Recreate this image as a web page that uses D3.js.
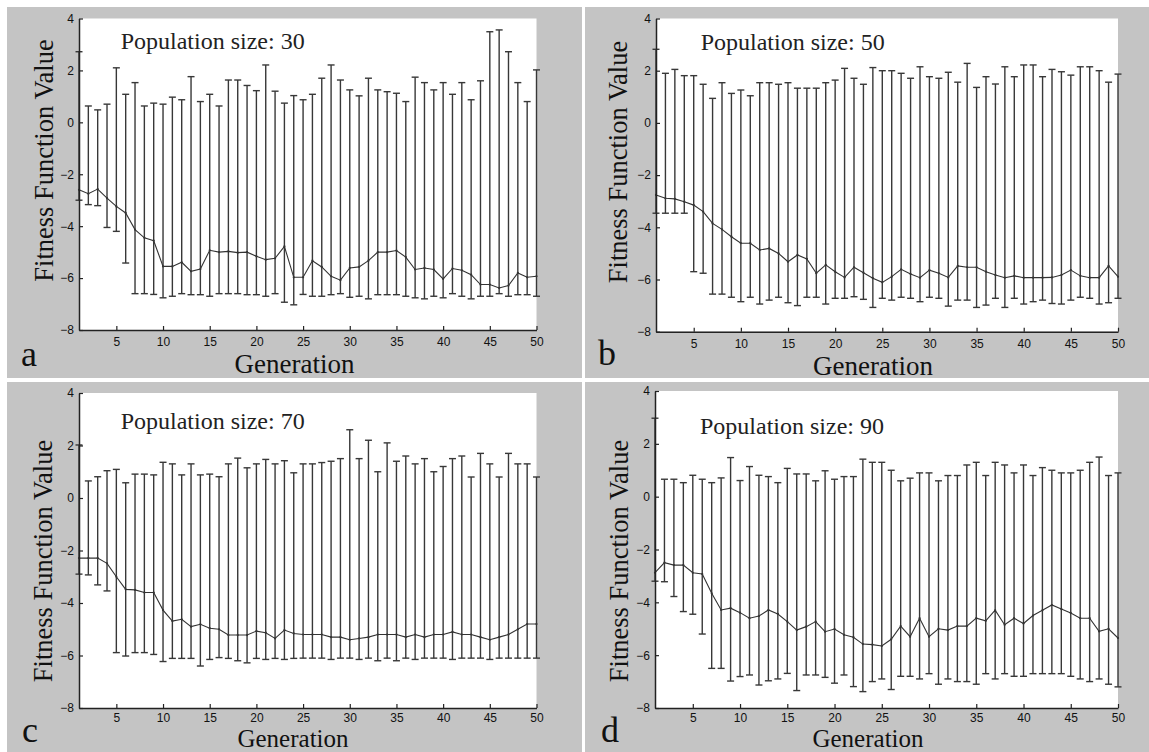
<!DOCTYPE html>
<html>
<head>
<meta charset="utf-8">
<script src="https://cdn.jsdelivr.net/npm/d3@7"></script>
<style>
  body { margin: 0; background: #fff; }
  svg { display: block; }
</style>
</head>
<body>
<svg id="chart" width="1149" height="752"></svg>
<script>
const generations = d3.range(1, 51)
const yTicks = [-8, -6, -4, -2, 0, 2, 4]
const xTicks = [5, 10, 15, 20, 25, 30, 35, 40, 45, 50]

// population size 30
const upperA = [2.72, 0.63, 0.48, 0.70, 2.10, 1.08, 1.53, 0.63, 0.74, 0.70, 0.97, 0.87, 1.76, 0.80, 1.08, 0.63, 1.63, 1.63, 1.42, 1.22, 2.21, 1.20, 0.74, 1.03, 0.87, 1.08, 1.70, 2.21, 1.63, 1.25, 1.02, 1.70, 1.25, 1.18, 1.12, 0.80, 1.74, 1.53, 1.25, 1.53, 1.08, 1.53, 0.87, 1.60, 3.49, 3.56, 2.72, 1.53, 0.80, 2.02]
const meanA = [-2.60, -2.75, -2.57, -2.92, -3.24, -3.49, -4.13, -4.45, -4.56, -5.55, -5.55, -5.39, -5.74, -5.65, -4.93, -5.00, -4.97, -5.02, -5.00, -5.16, -5.29, -5.24, -4.78, -5.97, -5.97, -5.33, -5.57, -5.93, -6.08, -5.61, -5.57, -5.33, -5.00, -5.00, -4.94, -5.19, -5.67, -5.61, -5.67, -6.03, -5.63, -5.70, -5.87, -6.25, -6.25, -6.38, -6.29, -5.80, -5.97, -5.93]
const lowerA = [-3.00, -3.17, -3.21, -4.05, -4.20, -5.42, -6.60, -6.60, -6.63, -6.76, -6.70, -6.60, -6.64, -6.64, -6.70, -6.60, -6.60, -6.60, -6.64, -6.64, -6.70, -6.60, -6.93, -7.03, -6.63, -6.70, -6.70, -6.64, -6.60, -6.74, -6.70, -6.80, -6.64, -6.64, -6.64, -6.70, -6.76, -6.80, -6.70, -6.76, -6.60, -6.70, -6.80, -6.70, -6.70, -6.60, -6.70, -6.64, -6.64, -6.70]

// population size 50
const upperB = [2.82, 1.90, 2.05, 1.81, 1.81, 1.48, 0.94, 1.54, 1.13, 1.26, 1.04, 1.54, 1.54, 1.48, 1.54, 1.33, 1.33, 1.33, 1.54, 1.64, 2.09, 1.71, 1.48, 2.12, 2.00, 2.00, 1.90, 1.71, 2.15, 1.77, 1.71, 1.94, 1.56, 2.28, 1.36, 1.77, 1.49, 2.15, 1.77, 2.22, 2.22, 1.77, 2.05, 1.96, 1.83, 2.15, 2.15, 2.00, 1.56, 1.87]
const meanB = [-2.76, -2.89, -2.91, -3.02, -3.15, -3.40, -3.85, -4.08, -4.36, -4.61, -4.61, -4.87, -4.81, -5.00, -5.32, -5.06, -5.21, -5.76, -5.44, -5.70, -5.92, -5.53, -5.74, -5.95, -6.11, -5.89, -5.61, -5.79, -5.93, -5.64, -5.76, -5.92, -5.48, -5.53, -5.53, -5.70, -5.83, -5.93, -5.86, -5.93, -5.93, -5.93, -5.92, -5.83, -5.64, -5.86, -5.93, -5.93, -5.48, -5.89]
const lowerB = [-3.46, -3.46, -3.46, -3.46, -5.70, -5.76, -6.56, -6.56, -6.68, -6.85, -6.68, -6.94, -6.79, -6.68, -6.89, -7.00, -6.68, -6.68, -6.94, -6.72, -6.72, -6.66, -6.76, -7.07, -6.72, -6.79, -6.68, -6.72, -6.85, -6.68, -6.72, -7.02, -6.79, -6.79, -7.07, -6.98, -6.72, -7.07, -6.72, -6.94, -6.85, -6.79, -6.92, -6.94, -6.79, -6.68, -6.72, -6.94, -6.89, -6.72]

// population size 70
const upperC = [2.02, 0.65, 0.81, 1.04, 1.09, 0.58, 0.91, 0.91, 0.88, 1.36, 1.30, 0.88, 1.30, 0.88, 0.91, 0.81, 1.30, 1.52, 1.15, 1.30, 1.47, 1.30, 1.42, 0.96, 1.30, 1.30, 1.35, 1.40, 1.50, 2.60, 1.50, 2.20, 1.00, 2.10, 1.40, 1.60, 1.30, 1.50, 1.00, 1.20, 1.50, 1.60, 0.80, 1.70, 1.30, 0.80, 1.70, 1.30, 1.30, 0.80]
const meanC = [-2.29, -2.29, -2.29, -2.49, -3.00, -3.48, -3.50, -3.60, -3.60, -4.27, -4.69, -4.62, -4.90, -4.81, -4.96, -5.00, -5.22, -5.22, -5.22, -5.07, -5.13, -5.35, -5.03, -5.16, -5.20, -5.20, -5.20, -5.30, -5.30, -5.40, -5.35, -5.30, -5.20, -5.20, -5.20, -5.30, -5.20, -5.30, -5.20, -5.20, -5.10, -5.20, -5.20, -5.30, -5.40, -5.30, -5.20, -5.00, -4.80, -4.80]
const lowerC = [-2.90, -2.93, -3.31, -3.54, -5.89, -6.02, -5.89, -5.89, -5.96, -6.23, -6.11, -6.11, -6.11, -6.40, -6.15, -6.08, -6.11, -6.20, -6.28, -6.11, -6.15, -6.11, -6.15, -6.11, -6.10, -6.10, -6.10, -6.15, -6.10, -6.10, -6.15, -6.10, -6.20, -6.10, -6.20, -6.10, -6.15, -6.10, -6.10, -6.10, -6.15, -6.10, -6.10, -6.10, -6.15, -6.10, -6.10, -6.10, -6.10, -6.10]

// population size 90
const upperD = [2.97, 0.66, 0.66, 0.53, 0.81, 0.66, 0.53, 0.71, 1.48, 0.61, 1.14, 0.81, 0.76, 0.53, 1.07, 0.86, 0.86, 0.60, 0.98, 0.66, 0.76, 0.76, 1.42, 1.30, 1.30, 1.00, 0.60, 0.70, 0.90, 0.90, 0.60, 0.80, 0.80, 1.20, 1.30, 0.80, 1.30, 1.20, 0.90, 1.20, 0.80, 1.10, 1.00, 0.90, 0.90, 1.00, 1.30, 1.50, 0.80, 0.90]
const meanD = [-2.88, -2.50, -2.59, -2.59, -2.88, -2.93, -3.66, -4.29, -4.22, -4.39, -4.60, -4.52, -4.29, -4.44, -4.73, -5.05, -4.92, -4.73, -5.11, -5.01, -5.23, -5.32, -5.58, -5.60, -5.65, -5.40, -4.90, -5.30, -4.60, -5.30, -5.00, -5.05, -4.90, -4.90, -4.60, -4.70, -4.30, -4.85, -4.60, -4.80, -4.50, -4.30, -4.10, -4.25, -4.40, -4.60, -4.60, -5.10, -5.00, -5.35]
const lowerD = [-3.20, -3.22, -3.78, -4.35, -4.45, -5.20, -6.50, -6.50, -6.98, -6.81, -6.75, -7.13, -6.97, -6.90, -6.69, -7.34, -6.75, -6.75, -6.84, -7.06, -6.75, -7.19, -7.38, -7.00, -6.90, -7.30, -6.80, -6.80, -6.90, -6.70, -7.10, -6.90, -7.00, -7.00, -7.10, -6.70, -6.90, -6.70, -6.80, -6.80, -6.70, -6.70, -6.70, -6.70, -6.80, -6.90, -7.00, -6.90, -7.10, -7.20]

// page layout of the four sub-figures
const panels = [
  { letter: 'a', size: 30, upper: upperA, mean: meanA, lower: lowerA, pad: 7.5, xlabSize: 27,
    box: [7, 7, 582, 378], plot: [79, 18.5, 536.5, 330], title: [120.7, 48.5], ylab: [53, 160.5], xlab: [294.5, 372.5], tag: [21, 366] },
  { letter: 'b', size: 50, upper: upperB, mean: meanB, lower: lowerB, pad: 7.5, xlabSize: 27,
    box: [585, 7, 1149, 378], plot: [656, 18.5, 1118, 331.7], title: [700.7, 49.5], ylab: [627, 162], xlab: [873, 374.5], tag: [598, 365] },
  { letter: 'c', size: 70, upper: upperC, mean: meanC, lower: lowerC, pad: 5, xlabSize: 25,
    box: [7, 382, 582, 752], plot: [79, 393, 536.5, 708], title: [120.7, 428.5], ylab: [52, 561], xlab: [293, 746.6], tag: [22, 742] },
  { letter: 'd', size: 90, upper: upperD, mean: meanD, lower: lowerD, pad: 5, xlabSize: 25,
    box: [585, 382, 1149, 752], plot: [655, 391, 1118, 708], title: [700, 433.5], ylab: [628, 561], xlab: [868, 746.6], tag: [601, 742] },
]

const ink = '#333'
const serif = '"Liberation Serif", "Times New Roman", serif'
const sans = '"Liberation Sans", Arial, sans-serif'

const svg = d3.select('#chart')

const renderPanel = (g, p) => {
  const [bx0, by0, bx1, by1] = p.box
  const [px0, py0, px1, py1] = p.plot

  g.append('rect')
    .attr('x', bx0).attr('y', by0)
    .attr('width', bx1 - bx0).attr('height', by1 - by0)
    .attr('fill', '#c4c4c4')

  const x = d3.scaleLinear().domain([1, 50]).range([px0, px1])
  const y = d3.scaleLinear().domain([-8, 4]).range([py1, py0])

  g.append('rect')
    .attr('x', px0).attr('y', py0)
    .attr('width', px1 - px0).attr('height', py1 - py0)
    .attr('fill', '#fff')

  const rows = generations.map((gen, i) => ({ gen, hi: p.upper[i], mean: p.mean[i], lo: p.lower[i] }))

  const bars = g.append('g').attr('stroke', '#383838').attr('stroke-width', 1.4)
    .selectAll('g').data(rows).join('g')
  bars.append('line')
    .attr('x1', d => x(d.gen)).attr('x2', d => x(d.gen))
    .attr('y1', d => y(d.lo)).attr('y2', d => y(d.hi))
  bars.selectAll('line.cap').data(d => [[d.gen, d.lo], [d.gen, d.hi]]).join('line')
    .attr('class', 'cap')
    .attr('x1', d => x(d[0]) - 3.5).attr('x2', d => x(d[0]) + 3.5)
    .attr('y1', d => y(d[1])).attr('y2', d => y(d[1]))

  g.append('path').datum(rows)
    .attr('fill', 'none').attr('stroke', ink).attr('stroke-width', 1.1)
    .attr('d', d3.line().x(d => x(d.gen)).y(d => y(d.mean)))
  g.append('g').selectAll('circle').data(rows).join('circle')
    .attr('cx', d => x(d.gen)).attr('cy', d => y(d.mean)).attr('r', 1.1)
    .attr('fill', ink)

  // MATLAB-style axes: only left and bottom, ticks pointing in
  const styleAxis = sel => {
    sel.select('.domain').attr('stroke', '#222').attr('stroke-width', 1.5)
    sel.selectAll('.tick line').attr('stroke', '#222').attr('stroke-width', 1.2)
    sel.selectAll('.tick text').attr('fill', '#111')
      .style('font-family', sans).style('font-size', '12px')
  }
  g.append('g').attr('transform', `translate(${px0},0)`)
    .call(d3.axisLeft(y).tickValues(yTicks).tickSize(-4).tickSizeOuter(0).tickPadding(5))
    .call(styleAxis)
  g.append('g').attr('transform', `translate(0,${py1})`)
    .call(d3.axisBottom(x).tickValues(xTicks).tickSize(-4).tickSizeOuter(0).tickPadding(p.pad))
    .call(styleAxis)

  g.append('text')
    .attr('x', p.title[0]).attr('y', p.title[1])
    .style('font-family', serif).style('font-size', '24px').attr('fill', '#222')
    .text(`Population size: ${p.size}`)

  g.append('text')
    .attr('transform', `translate(${p.ylab[0]},${p.ylab[1]}) rotate(-90)`)
    .attr('text-anchor', 'middle')
    .style('font-family', serif).style('font-size', '26.5px').attr('fill', '#111')
    .text('Fitness Function Value')

  g.append('text')
    .attr('x', p.xlab[0]).attr('y', p.xlab[1])
    .attr('text-anchor', 'middle')
    .style('font-family', serif).style('font-size', `${p.xlabSize}px`).attr('fill', '#111')
    .text('Generation')

  g.append('text')
    .attr('x', p.tag[0]).attr('y', p.tag[1])
    .style('font-family', serif).style('font-size', '36px').attr('fill', '#111')
    .text(p.letter)
}

svg.selectAll('g.panel').data(panels).join('g')
  .attr('class', 'panel')
  .each(function(p) { renderPanel(d3.select(this), p) })
</script>
</body>
</html>
